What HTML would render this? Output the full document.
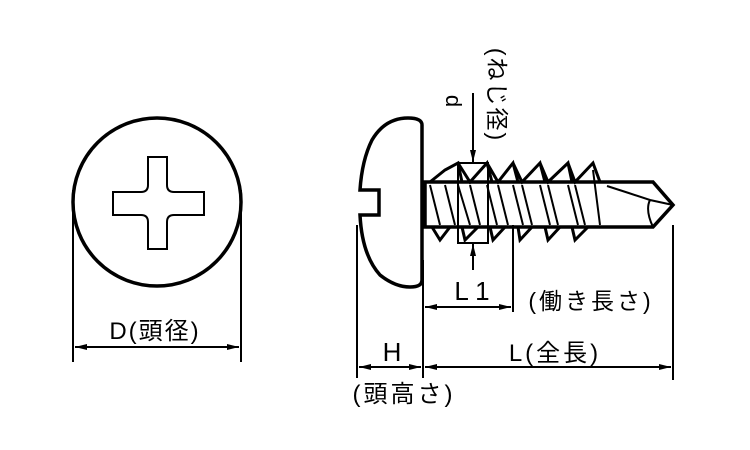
<!DOCTYPE html>
<html><head><meta charset="utf-8"><style>
html,body{margin:0;padding:0;background:#fff;}
svg{display:block;}
text{font-family:"Liberation Sans","Noto Sans CJK JP",sans-serif;fill:#000;}
</style></head><body>
<svg width="750" height="450" viewBox="0 0 750 450" xmlns="http://www.w3.org/2000/svg">
<defs>
<marker id="a" viewBox="0 0 12 6" refX="12" refY="3" markerWidth="12" markerHeight="6" orient="auto-start-reverse" markerUnits="userSpaceOnUse"><path d="M0,0 L12,3 L0,6 Z" fill="#000"/></marker>
</defs>
<g fill="none" stroke="#000" stroke-width="2">
<!-- left view -->
<circle cx="157" cy="202" r="84" stroke-width="3.5"/>
<path d="M148,157 H167 V185 Q167,192 174,192 H204 V215 H174 Q167,215 167,222 V249 H148 V222 Q148,215 141,215 H113 V192 H141 Q148,192 148,185 Z"/>
<line x1="73" y1="190" x2="73" y2="362"/>
<line x1="241" y1="190" x2="241" y2="362"/>
<line x1="75" y1="347" x2="239" y2="347" marker-start="url(#a)" marker-end="url(#a)"/>

<!-- head side -->
<path d="M422,125 Q422,118 408,118 Q385,118 372,140 Q362,160 360,190 H379 V215 H360 Q362,255 380,275 Q395,287 410,287 Q422,287 422,280 Z" stroke-width="3.5"/>
<!-- shank -->
<path d="M422,182 H600 M422,227 H600 M425,182 V227" stroke-width="3.5"/>
<!-- threads -->
<path d="M430,182 L445,170 L458,163 L462,182 M458,163 L470,182 L487,163 L492,182 M487,163 L498,182 L513,163 L518,182 M513,163 L522,182 L540,163 L545,182 M540,163 L548,182 L568,163 L572,182 M568,163 L575,182 L593,163 L600,182" stroke-width="3"/>
<path d="M432,227 L440,240 L450,227 M462,227 L465,240 L478,227 M490,227 L493,240 L505,227 M518,227 L520,240 L532,227 M545,227 L548,240 L560,227 M572,227 L575,240 L588,227" stroke-width="3"/>
<path d="M430,185 L440,225 M445,185 L455,225 M458,185 L470,225 M470,185 L480,225 M487,185 L497,225 M498,185 L508,225 M513,185 L523,225 M522,185 L532,225 M540,185 L550,225 M548,185 L558,225 M568,185 L578,225 M575,185 L585,225 M593,170 L600,225"/>
<rect x="458" y="163" width="30" height="80"/>
<!-- drill tip -->
<path d="M600,182 H653 L673,205 L653,227 H600" stroke-width="3.5"/>
<path d="M607,186 Q635,195 650,200 L673,205 M650,200 Q645,210 653,227"/>
<!-- dimension lines -->
<line x1="357" y1="225" x2="357" y2="378"/>
<line x1="423" y1="260" x2="423" y2="378"/>
<line x1="513" y1="225" x2="513" y2="312"/>
<line x1="673" y1="225" x2="673" y2="380"/>
<line x1="359" y1="367" x2="421" y2="367" marker-start="url(#a)" marker-end="url(#a)"/>
<line x1="425" y1="367" x2="671" y2="367" marker-start="url(#a)" marker-end="url(#a)"/>
<line x1="425" y1="307" x2="511" y2="307" marker-start="url(#a)" marker-end="url(#a)"/>
<line x1="473" y1="93" x2="473" y2="162" marker-end="url(#a)"/>
<line x1="473" y1="270" x2="473" y2="244" marker-end="url(#a)"/>
</g>
<text x="155" y="339" font-size="24" letter-spacing="2" text-anchor="middle">D(頭径)</text>
<text x="472" y="300" font-size="26" text-anchor="middle">L 1</text>
<text x="591" y="309" font-size="23" letter-spacing="3" text-anchor="middle">(働き長さ)</text>
<text x="392" y="361" font-size="26" text-anchor="middle">H</text>
<text x="555" y="361" font-size="24" letter-spacing="3" text-anchor="middle">L(全長)</text>
<text x="404" y="402" font-size="24" letter-spacing="3" text-anchor="middle">(頭高さ)</text>
<text transform="translate(446,101) rotate(90)" font-size="22" text-anchor="middle">d</text>
<text transform="translate(489,95) rotate(90)" font-size="23" letter-spacing="2" text-anchor="middle">(ねじ径)</text>
</svg>
</body></html>
